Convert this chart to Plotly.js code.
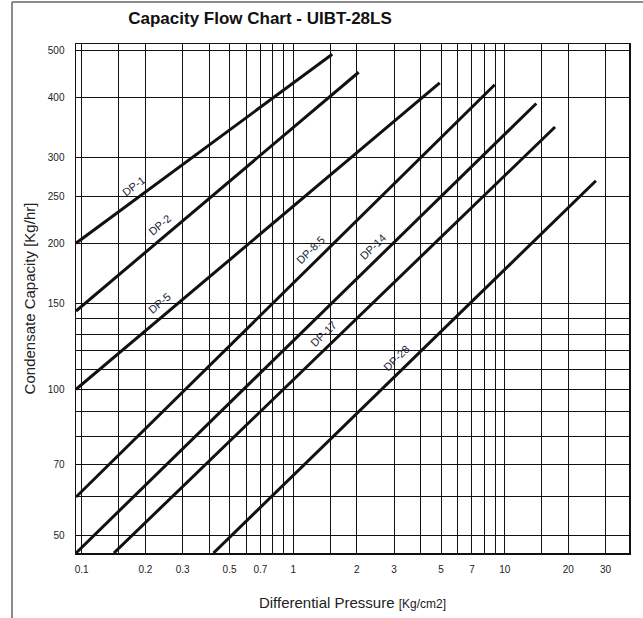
<!DOCTYPE html>
<html>
<head>
<meta charset="utf-8">
<script src="https://cdn.plot.ly/plotly-3.0.1.min.js"></script>
<style>
  html, body { margin: 0; padding: 0; background: #ffffff; }
  #chart { width: 643px; height: 618px; }
</style>
</head>
<body>
<div id="chart"></div>
<script>
// ---------- data ----------
const seriesNames = ['DP-1', 'DP-2', 'DP-5', 'DP-8.5', 'DP-14', 'DP-17', 'DP-28'];
// differential pressure [Kg/cm2] / capacity [Kg/hr] at start and end of each line
const dp1X = [0.094, 1.53],  dp1Y = [200, 490];
const dp2X = [0.094, 2.04],  dp2Y = [145, 450];
const dp5X = [0.094, 4.93],  dp5Y = [100, 428];
const dp85X = [0.094, 8.97], dp85Y = [60, 424];
const dp14X = [0.094, 14.1], dp14Y = [46, 388];
const dp17X = [0.142, 17.3], dp17Y = [46, 347];
const dp28X = [0.42, 27.0],  dp28Y = [46, 269];

// axis tick labels and extra grid lines
const xTickVals = [0.1, 0.2, 0.3, 0.5, 0.7, 1, 2, 3, 5, 7, 10, 20, 30];
const xTickText = ['0.1', '0.2', '0.3', '0.5', '0.7', '1', '2', '3', '5', '7', '10', '20', '30'];
const xGridOnly = [0.15, 0.4, 0.6, 0.8, 0.9, 1.5, 4, 6, 8, 9, 15];
const yTickVals = [50, 70, 100, 150, 200, 250, 300, 400, 500];
const yTickText = ['50', '70', '100', '150', '200', '250', '300', '400', '500'];
const yGridOnly = [60, 80, 90, 110, 120, 130, 140];

// where along each line its label sits (x position, Kg/cm2)
const labelAtX = [0.19, 0.254, 0.254, 1.32, 2.6, 1.52, 3.37];

// ---------- layout constants ----------
const W = 643, H = 618;
const M = { l: 76, r: 14, t: 44, b: 65 };
const plotW = W - M.l - M.r, plotH = H - M.t - M.b;
const xRange = [Math.log10(0.094), Math.log10(38.7)];
const yRange = [Math.log10(46), 2.7114];
const pxPerDecX = plotW / (xRange[1] - xRange[0]);
const pxPerDecY = plotH / (yRange[1] - yRange[0]);

const xs = [dp1X, dp2X, dp5X, dp85X, dp14X, dp17X, dp28X];
const ys = [dp1Y, dp2Y, dp5Y, dp85Y, dp14Y, dp17Y, dp28Y];

const traces = seriesNames.map((name, i) => ({
  type: 'scatter', mode: 'lines', name: name,
  x: xs[i], y: ys[i],
  line: { color: '#111111', width: 3 },
  hoverinfo: 'x+y+name'
}));

const annotations = seriesNames.map((name, i) => {
  const lx0 = Math.log10(xs[i][0]), lx1 = Math.log10(xs[i][1]);
  const ly0 = Math.log10(ys[i][0]), ly1 = Math.log10(ys[i][1]);
  const k = (ly1 - ly0) / (lx1 - lx0);
  const lx = Math.log10(labelAtX[i]);
  const ly = ly0 + k * (lx - lx0);
  const theta = Math.atan(k * pxPerDecY / pxPerDecX);
  const off = 12;
  return {
    x: lx, y: ly, xref: 'x', yref: 'y',
    text: name, showarrow: false,
    textangle: -theta * 180 / Math.PI,
    xanchor: 'center', yanchor: 'middle',
    xshift: -off * Math.sin(theta), yshift: off * Math.cos(theta),
    font: { family: 'Liberation Sans, Arial, sans-serif', size: 11, color: '#1a1f38' }
  };
});

const gridStyle = { showgrid: true, gridcolor: '#111111', gridwidth: 1 };

const layout = {
  width: W, height: H,
  margin: M,
  paper_bgcolor: '#ffffff', plot_bgcolor: '#ffffff',
  showlegend: false,
  font: { family: 'Liberation Sans, Arial, sans-serif', color: '#222222' },
  title: {
    text: 'Capacity Flow Chart - UIBT-28LS',
    font: { family: 'Liberation Sans, Arial, sans-serif', size: 17, color: '#111111', weight: 'bold' },
    x: 260 / W, xref: 'container', xanchor: 'center',
    y: 1 - 18 / H, yref: 'container', yanchor: 'middle'
  },
  xaxis: {
    type: 'log', range: xRange, automargin: false,
    tickmode: 'array', tickvals: xTickVals, ticktext: xTickText,
    ticks: '', ticklabelstandoff: 6,
    tickfont: { size: 10, color: '#222222' },
    ...gridStyle,
    minor: { tickmode: 'array', tickvals: xGridOnly, showgrid: true, gridcolor: '#111111', gridwidth: 1, ticks: '' },
    showline: true, linecolor: '#111111', linewidth: 1.5, mirror: true,
    zeroline: false,
    title: {
      text: 'Differential Pressure <span style="font-size:12px">[Kg/cm2]</span>',
      font: { size: 15, color: '#222222' }, standoff: 24
    }
  },
  yaxis: {
    type: 'log', range: yRange, automargin: false,
    tickmode: 'array', tickvals: yTickVals, ticktext: yTickText,
    ticks: '', ticklabelstandoff: 8,
    tickfont: { size: 10, color: '#222222' },
    ...gridStyle,
    minor: { tickmode: 'array', tickvals: yGridOnly, showgrid: true, gridcolor: '#111111', gridwidth: 1, ticks: '' },
    showline: true, linecolor: '#111111', linewidth: 1.5, mirror: true,
    zeroline: false,
    title: {
      text: 'Condensate Capacity [Kg/hr]',
      font: { size: 15, color: '#222222' }, standoff: 8
    }
  },
  annotations: annotations,
  shapes: [
    { type: 'line', xref: 'paper', yref: 'paper',
      x0: (12 - M.l) / plotW, x1: (W - M.l) / plotW,
      y0: (H - M.b - 2) / plotH, y1: (H - M.b - 2) / plotH,
      line: { color: '#666666', width: 1.5 } },
    { type: 'line', xref: 'paper', yref: 'paper',
      x0: (12 - M.l) / plotW, x1: (12 - M.l) / plotW,
      y0: (H - M.b - 2) / plotH, y1: -M.b / plotH,
      line: { color: '#666666', width: 1.5 } }
  ]
};

Plotly.newPlot('chart', traces, layout, { displayModeBar: false, staticPlot: true });
</script>
</body>
</html>
